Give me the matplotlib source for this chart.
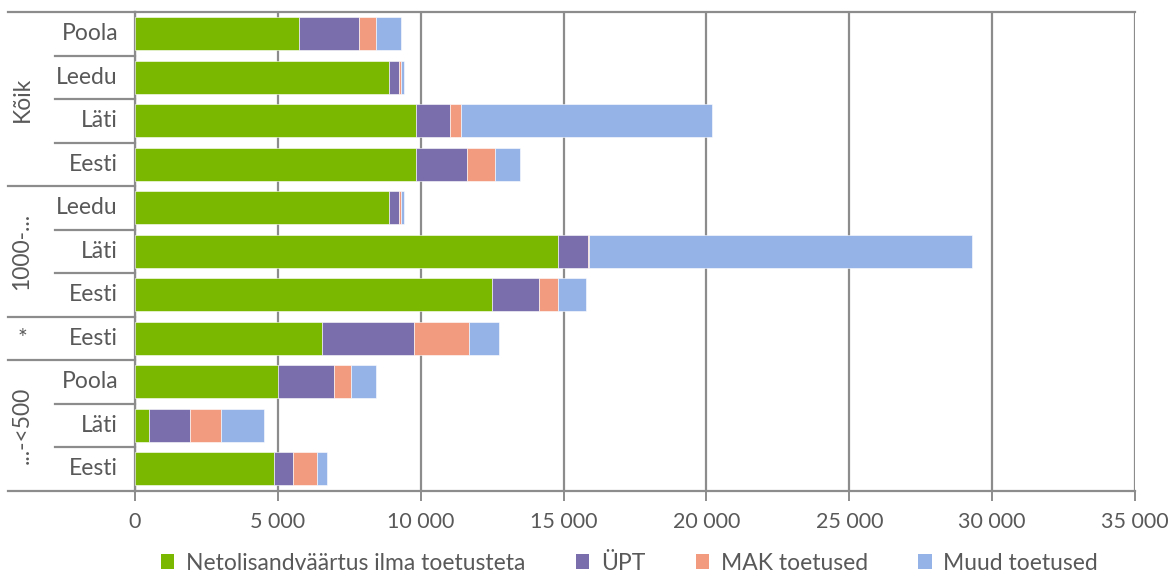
import matplotlib.pyplot as plt
import matplotlib.transforms as mtransforms
from matplotlib.patches import Patch

# rows from top to bottom
rows = ["Poola", "Leedu", "Läti", "Eesti",
        "Leedu", "Läti", "Eesti",
        "Eesti",
        "Poola", "Läti", "Eesti"]
groups = ["Kõik", "1000-...", "*", "...-<500"]
group_sizes = [4, 3, 1, 3]

netolisand = [5730, 8900, 9835, 9835, 8900, 14805, 12485, 6535, 4995, 480, 4855]
upt = [2120, 340, 1190, 1785, 340, 1050, 1655, 3230, 1970, 1445, 665]
mak = [585, 70, 395, 990, 70, 35, 665, 1925, 605, 1075, 860]
muud = [865, 115, 8760, 865, 115, 13410, 995, 1060, 865, 1525, 340]

series = [netolisand, upt, mak, muud]
names = ["Netolisandväärtus ilma toetusteta", "ÜPT", "MAK toetused", "Muud toetused"]
colors = ["#7AB800", "#7A6FAC", "#F29B7F", "#95B3E7"]

plt.rcParams["font.family"] = ["Lato", "DejaVu Sans"]
text_col = "#595959"
line_col = "#8C8C8C"

fig = plt.figure(figsize=(11.72, 5.76), dpi=100)
ax = fig.add_axes([135 / 1172, 1 - 490.7 / 576, 1000 / 1172, (490.7 - 12) / 576])

ypos = list(range(len(rows)))
left = [0] * len(rows)
for vals, name, col in zip(series, names, colors):
    ax.barh(ypos, vals, left=left, height=0.76, color=col, label=name,
            edgecolor="white", linewidth=0.4, zorder=3)
    left = [a + b for a, b in zip(left, vals)]

ax.set_xlim(0, 35000)
ax.set_ylim(len(rows) - 0.5, -0.5)
ax.set_xticks(range(0, 35001, 5000))
ax.set_xticklabels(["0"] + [f"{v // 1000} 000" for v in range(5000, 35001, 5000)])
ax.grid(axis="x", color=line_col, linewidth=1.6, zorder=0)
ax.tick_params(axis="x", colors=line_col, labelcolor=text_col, labelsize=15.5,
               length=7, width=1.4, pad=8)
ax.set_yticks([])

for side in ["left", "bottom", "top", "right"]:
    ax.spines[side].set_color(line_col)
    ax.spines[side].set_linewidth(1.6)
ax.spines["right"].set_visible(False)

trans = mtransforms.blended_transform_factory(ax.transAxes, ax.transData)

# row labels
for i, r in enumerate(rows):
    ax.text(-0.017, i, r, transform=trans, ha="right", va="center",
            fontsize=16.5, color=text_col)

# separators between rows and groups
start = 0
bounds = [-0.5]
for g in group_sizes:
    start += g
    bounds.append(start - 0.5)
for i in range(len(rows) + 1):
    yb = i - 0.5
    x0 = -0.127 if yb in bounds else -0.08
    ax.plot([x0, 0], [yb, yb], transform=trans, color=line_col,
            linewidth=1.6, clip_on=False)

# group labels
start = 0
for g, n in zip(groups, group_sizes):
    mid = start + (n - 1) / 2
    rot = 0 if g == "*" else 90
    ax.text(-0.113, mid, g, transform=trans, ha="center", va="center",
            rotation=rot, fontsize=16.5, color=text_col)
    start += n

handles = [Patch(facecolor=c, label=n) for c, n in zip(colors, names)]
leg = fig.legend(handles=handles, loc="center", bbox_to_anchor=(0.537, 0.022),
                 ncol=4, frameon=False, fontsize=16.5, handlelength=0.6,
                 handleheight=0.6, columnspacing=2.2, handletextpad=0.5)
for t in leg.get_texts():
    t.set_color(text_col)

fig.savefig("out.png", dpi=100)
